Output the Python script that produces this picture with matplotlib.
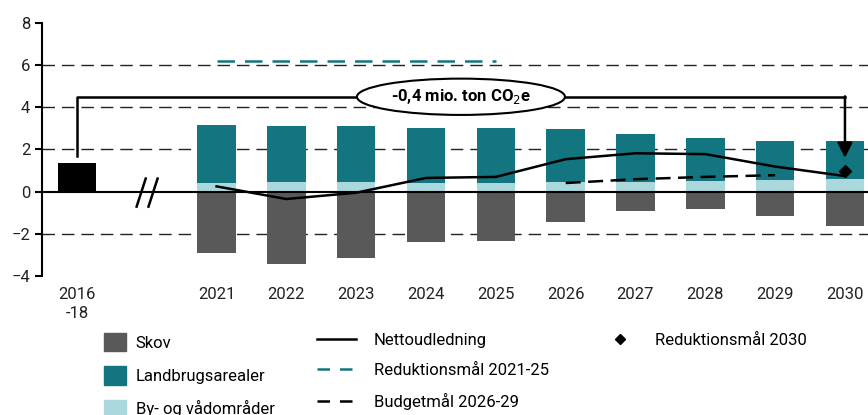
import matplotlib.pyplot as plt
import matplotlib.patches as mpatches
import matplotlib.lines as mlines
import numpy as np

plt.rcParams['font.family'] = ['Roboto', 'DejaVu Sans']

# data
years = ["2021", "2022", "2023", "2024", "2025", "2026", "2027", "2028", "2029", "2030"]
base_label = "2016\n-18"
base_value = 1.35
skov = [-2.9, -3.43, -3.14, -2.4, -2.35, -1.43, -0.92, -0.81, -1.16, -1.64]
by_vaad = [0.43, 0.45, 0.45, 0.43, 0.43, 0.48, 0.48, 0.52, 0.55, 0.62]
landbrug_top = [3.14, 3.1, 3.1, 3.03, 3.03, 2.97, 2.73, 2.55, 2.38, 2.38]
netto = [0.25, -0.35, -0.05, 0.65, 0.7, 1.54, 1.82, 1.78, 1.19, 0.74]
budget_years = ["2026", "2027", "2028", "2029"]
budget = [0.41, 0.59, 0.7, 0.78]
red_2125_years = ["2021", "2025"]
red_2125 = [6.2, 6.2]
red_2030 = 0.98
label_text = "-0,4 mio. ton CO$_2$e"

col_skov = "#595959"
col_land = "#137580"
col_by = "#abd8dd"

fig = plt.figure(figsize=(8.68, 4.15), dpi=100)
ax = fig.add_axes([0.0484, 0.335, 0.9516, 0.6096])

x = np.arange(len(years))
xb = -2
landbrug = np.array(landbrug_top) - np.array(by_vaad)
w = 0.55

for g in [-2, 2, 4, 6]:
    ax.axhline(g, color="#222222", lw=1, ls=(0, (9, 5)), zorder=0)

ax.bar(xb, base_value, width=w, color="black", zorder=2)
ax.bar(x, skov, width=w, color=col_skov, zorder=2)
ax.bar(x, by_vaad, width=w, color=col_by, zorder=2)
ax.bar(x, landbrug, bottom=by_vaad, width=w, color=col_land, zorder=2)
ax.axhline(0, color="black", lw=1.5, zorder=3)

ax.plot(x, netto, color="black", lw=1.8, zorder=4)
bx = [years.index(y) for y in budget_years]
ax.plot(bx, budget, color="black", lw=1.8, ls=(0, (6, 3)), zorder=4)
rx = [years.index(y) for y in red_2125_years]
ax.plot(rx, red_2125, color=col_land, lw=1.8, ls=(0, (7, 4)), zorder=4)
ax.plot(x[-1], red_2030, marker="D", color="black", ms=6, zorder=5)

# bracket with arrow
yb = 4.5
ax.plot([xb, xb, x[-1]], [1.7, yb, yb], color="black", lw=1.8, zorder=4)
ax.annotate("", xy=(x[-1], 1.6), xytext=(x[-1], yb + 0.02),
            arrowprops=dict(arrowstyle="-|>,head_length=0.9,head_width=0.45",
                            color="black", lw=1.8, shrinkA=0, shrinkB=0), zorder=5)
ax.text(3.5, yb, label_text, ha="center", va="center", fontsize=12, fontweight="bold",
        bbox=dict(boxstyle="ellipse,pad=0.2", fc="white", ec="black", lw=1.5), zorder=6)

# axis break marks
for dx in [-1.08, -0.91]:
    ax.plot([dx - 0.065, dx + 0.065], [-0.71, 0.62], color="black", lw=1.8, zorder=5)

ax.set_xlim(-2.5, 9.33)
ax.set_ylim(-4, 8)
ax.set_yticks(np.arange(-4, 9, 2))
ax.set_xticks([xb] + list(x))
ax.set_xticklabels([base_label] + years, fontsize=12, color="#222222", linespacing=1.3)
ax.tick_params(axis="x", length=0, pad=8)
ax.tick_params(axis="y", direction="out", length=5, width=1.5, labelsize=12,
               colors="black", labelcolor="#222222")
for s in ["top", "right", "bottom"]:
    ax.spines[s].set_visible(False)
ax.spines["left"].set_linewidth(1.5)

# legends
h1 = [mpatches.Patch(color=col_skov, label="Skov"),
      mpatches.Patch(color=col_land, label="Landbrugsarealer"),
      mpatches.Patch(color=col_by, label="By- og vådområder")]
h2 = [mlines.Line2D([], [], color="black", lw=1.8, label="Nettoudledning"),
      mlines.Line2D([], [], color=col_land, lw=1.8, ls=(0, (5, 4)), label="Reduktionsmål 2021-25"),
      mlines.Line2D([], [], color="black", lw=1.8, ls=(0, (5, 4)), label="Budgetmål 2026-29")]
h3 = [mlines.Line2D([], [], color="black", marker="D", ms=5, lw=0, label="Reduktionsmål 2030")]

common = dict(frameon=False, fontsize=12, labelspacing=0.9, loc="upper left", borderaxespad=0)
fig.legend(handles=h1, bbox_to_anchor=(0.112, 0.213), handlelength=1.3, handleheight=1.3,
           handletextpad=0.6, **common)
fig.legend(handles=h2, bbox_to_anchor=(0.358, 0.213), handlelength=2.3, handletextpad=1.1,
           **common)
fig.legend(handles=h3, bbox_to_anchor=(0.697, 0.213), handlelength=1.0, handletextpad=1.6,
           **common)

fig.savefig("out.png", dpi=100)
